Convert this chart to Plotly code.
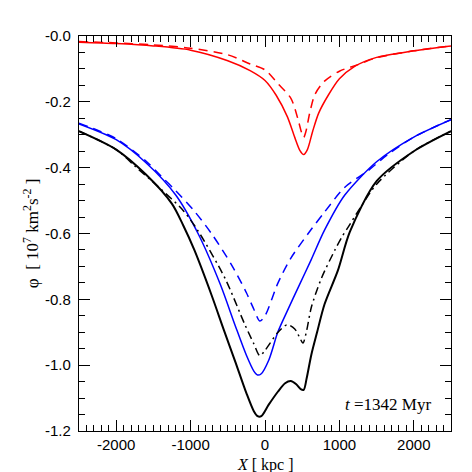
import plotly.graph_objects as go

# potential profiles along the collision axis
red_x = [-2500, -2000, -1500, -1000, -500, -200, 0, 150, 300, 400, 470, 520, 570, 640, 720, 850, 1000, 1200, 1500, 2000, 2500]
red_y = [-0.019, -0.023, -0.030, -0.043, -0.075, -0.105, -0.135, -0.180, -0.245, -0.308, -0.348, -0.360, -0.345, -0.290, -0.235, -0.180, -0.130, -0.093, -0.065, -0.045, -0.030]

red_dash_x = [-2500, -2000, -1500, -1000, -500, -200, 0, 175, 350, 440, 490, 520, 550, 600, 670, 800, 1000, 1250, 1500, 2000, 2500]
red_dash_y = [-0.017, -0.021, -0.027, -0.037, -0.057, -0.085, -0.103, -0.145, -0.190, -0.250, -0.292, -0.308, -0.290, -0.235, -0.178, -0.137, -0.107, -0.087, -0.066, -0.045, -0.030]

blue_x = [-2500, -2000, -1600, -1200, -900, -600, -400, -250, -150, -100, -50, 50, 175, 300, 450, 620, 800, 1070, 1500, 2000, 2500]
blue_y = [-0.267, -0.315, -0.385, -0.483, -0.600, -0.755, -0.880, -0.970, -1.018, -1.030, -1.026, -0.985, -0.898, -0.835, -0.762, -0.680, -0.590, -0.484, -0.382, -0.307, -0.254]

blue_dash_x = [-2500, -2000, -1600, -1400, -1200, -950, -720, -450, -250, -150, -70, 0, 175, 350, 620, 800, 1070, 1380, 1650, 2000, 2500]
blue_dash_y = [-0.265, -0.312, -0.380, -0.425, -0.470, -0.532, -0.600, -0.695, -0.780, -0.830, -0.866, -0.850, -0.750, -0.674, -0.588, -0.535, -0.460, -0.410, -0.360, -0.307, -0.254]

tot_x = [-2500, -2000, -1600, -1250, -1100, -950, -720, -550, -400, -250, -150, -100, -50, 50, 175, 270, 345, 420, 480, 520, 560, 622, 700, 800, 980, 1140, 1500, 2000, 2500]
tot_y = [-0.289, -0.345, -0.421, -0.510, -0.575, -0.650, -0.786, -0.895, -0.989, -1.085, -1.140, -1.155, -1.155, -1.120, -1.080, -1.055, -1.048, -1.058, -1.073, -1.075, -1.040, -0.969, -0.900, -0.815, -0.712, -0.595, -0.441, -0.350, -0.289]

tot_dd_x = [-2500, -2000, -1750, -1400, -1100, -900, -540, -270, -150, -70, 0, 175, 300, 400, 470, 510, 560, 622, 760, 940, 1030, 1120, 1300, 1500, 2000, 2500]
tot_dd_y = [-0.289, -0.345, -0.395, -0.465, -0.530, -0.592, -0.735, -0.877, -0.935, -0.971, -0.955, -0.900, -0.877, -0.890, -0.918, -0.933, -0.895, -0.825, -0.735, -0.650, -0.612, -0.580, -0.515, -0.450, -0.350, -0.289]

x_ticks = [-2000, -1000, 0, 1000, 2000]
x_labels = ["-2000", "-1000", "0", "1000", "2000"]
y_ticks = [0.0, -0.2, -0.4, -0.6, -0.8, -1.0, -1.2]
y_labels = ["-0.0", "-0.2", "-0.4", "-0.6", "-0.8", "-1.0", "-1.2"]

series = [
    (red_x, red_y, "#ff0000", "solid", 1.5),
    (red_dash_x, red_dash_y, "#ff0000", "9px,6px", 1.5),
    (blue_x, blue_y, "#0000ff", "solid", 1.5),
    (blue_dash_x, blue_dash_y, "#0000ff", "9px,6px", 1.5),
    (tot_dd_x, tot_dd_y, "black", "8px,4px,2px,4px", 1.5),
    (tot_x, tot_y, "black", "solid", 2),
]

fig = go.Figure()
for xs, ys, col, dash, w in series:
    fig.add_trace(go.Scatter(
        x=xs, y=ys, mode="lines",
        line=dict(color=col, dash=dash, width=w, shape="spline", smoothing=0.8),
        showlegend=False,
    ))

axis_common = dict(
    showline=True, linecolor="black", linewidth=1.3, mirror="allticks",
    ticks="inside", ticklen=11, tickwidth=1.2, tickcolor="black",
    showgrid=False, zeroline=False,
    tickfont=dict(family="Liberation Sans", size=15, color="black"),
)
fig.update_xaxes(
    range=[-2500, 2500], tickmode="array", tickvals=x_ticks, ticktext=x_labels,
    minor=dict(dtick=100, tick0=0, ticks="inside", ticklen=6,
               tickwidth=1.2, tickcolor="black", showgrid=False),
    ticklabelstandoff=0,
    **axis_common,
)
fig.update_yaxes(
    range=[-1.2, 0.0], tickmode="array", tickvals=y_ticks, ticktext=y_labels,
    minor=dict(dtick=0.05, tick0=0, ticks="inside", ticklen=6,
               tickwidth=1.2, tickcolor="black", showgrid=False),
    ticklabelstandoff=4,
    **axis_common,
)

serif = dict(family="Liberation Serif", size=17, color="black")
fig.add_annotation(
    x=-0.13, y=0.5, xref="paper", yref="paper", textangle=-90,
    text="φ  [ 10<sup>7</sup> km<sup>2</sup>s<sup>-2</sup> ]",
    showarrow=False, font=serif, xanchor="center", yanchor="middle",
)
fig.add_annotation(
    x=0.5, y=-0.085, xref="paper", yref="paper",
    text="<i>X</i> [ kpc ]", showarrow=False,
    font=dict(family="Liberation Serif", size=16, color="black"),
    xanchor="center", yanchor="middle",
)
fig.add_annotation(
    x=0.952, y=0.066, xref="paper", yref="paper",
    text="<i>t</i> =1342 Myr", showarrow=False, font=serif,
    xanchor="right", yanchor="middle",
)

fig.update_layout(
    width=472, height=472,
    margin=dict(l=71, r=29, t=28, b=49),
    plot_bgcolor="white", paper_bgcolor="white",
    showlegend=False,
)
fig.write_html("out.html")
